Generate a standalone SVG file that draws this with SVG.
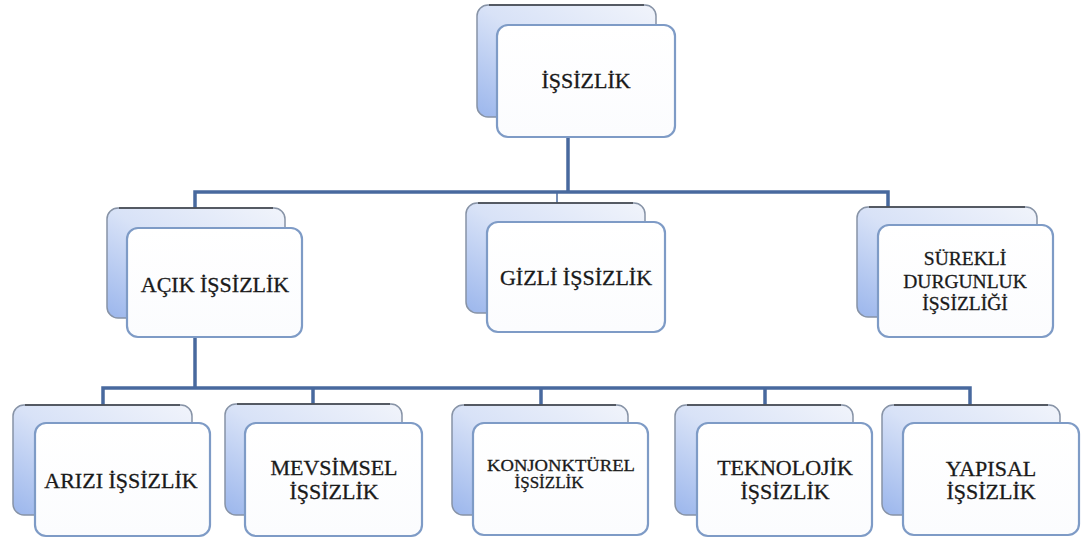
<svg xmlns="http://www.w3.org/2000/svg" width="1082" height="541" viewBox="0 0 1082 541">
  <defs>
    <linearGradient id="backFill" x1="1" y1="0" x2="0" y2="1">
      <stop offset="0" stop-color="#f1f4fb"/>
      <stop offset="0.5" stop-color="#d8e2f7"/>
      <stop offset="1" stop-color="#9bb6ec"/>
    </linearGradient>
    <linearGradient id="frontFill" x1="0" y1="0" x2="0" y2="1">
      <stop offset="0" stop-color="#ffffff"/>
      <stop offset="1" stop-color="#fbfcfe"/>
    </linearGradient>
  </defs>
  <style>
    .back { fill: url(#backFill); stroke: #8793a6; stroke-width: 1.5; }
    .backTop { fill: none; stroke: #3b3f46; stroke-width: 1.5; }
    .front { fill: url(#frontFill); stroke: #7e9bc6; stroke-width: 2.2; }
    .lbl { font-family: "Liberation Serif", "Times New Roman", serif; font-size: 22px; fill: #1a1a1a; stroke: #1a1a1a; stroke-width: 0.3; text-anchor: middle; }
    .mid { font-size: 19.5px; }
    .small { font-size: 17px; }
    .conn { fill: none; stroke: #48699e; stroke-width: 3.5; stroke-linejoin: miter; }
    .thin { fill: none; stroke: #48699e; stroke-width: 1.5; }
  </style>

  <rect width="1082" height="541" fill="#ffffff"/>

  <!-- connectors -->
  <g id="connectors">
    <path class="conn" d="M568 137 V192"/>
    <path class="conn" d="M195 208 V192 H888 V207"/>
    <path class="thin" d="M557 192 V203"/>
    <path class="conn" d="M195 338 V388"/>
    <path class="conn" d="M103 405 V388 H970 V405"/>
    <path class="conn" d="M313 388 V404"/>
    <path class="conn" d="M541 388 V405"/>
    <path class="conn" d="M765 388 V405"/>
  </g>

  <!-- top level -->
  <g id="issizlik">
    <rect class="back" x="477" y="5" width="179" height="112" rx="11"/>
    <path class="backTop" d="M489 5 H644"/>
    <rect class="front" x="497" y="25" width="178" height="112" rx="11"/>
    <text class="lbl" x="586" y="88">İŞSİZLİK</text>
  </g>

  <!-- second level -->
  <g id="acik-issizlik">
    <rect class="back" x="107" y="208" width="178" height="110" rx="11"/>
    <path class="backTop" d="M119 208 H273"/>
    <rect class="front" x="127" y="228" width="175" height="109" rx="11"/>
    <text class="lbl" x="215" y="292">AÇIK İŞSİZLİK</text>
  </g>

  <g id="gizli-issizlik">
    <rect class="back" x="466" y="203" width="179" height="110" rx="11"/>
    <path class="backTop" d="M478 203 H633"/>
    <rect class="front" x="487" y="222" width="178" height="110" rx="11"/>
    <text class="lbl" x="576" y="285">GİZLİ İŞSİZLİK</text>
  </g>

  <g id="surekli-durgunluk">
    <rect class="back" x="857" y="207" width="180" height="110" rx="11"/>
    <path class="backTop" d="M869 207 H1025"/>
    <rect class="front" x="878" y="225" width="175" height="112" rx="11"/>
    <text class="lbl mid" x="965" y="265">SÜREKLİ</text>
    <text class="lbl mid" x="965" y="287.5">DURGUNLUK</text>
    <text class="lbl mid" x="965" y="310">İŞSİZLİĞİ</text>
  </g>

  <!-- third level -->
  <g id="arizi-issizlik">
    <rect class="back" x="13" y="405" width="179" height="110" rx="11"/>
    <path class="backTop" d="M25 405 H180"/>
    <rect class="front" x="35" y="423" width="175" height="113" rx="11"/>
    <text class="lbl" x="121" y="488">ARIZI İŞSİZLİK</text>
  </g>

  <g id="mevsimsel-issizlik">
    <rect class="back" x="225" y="404" width="177" height="111" rx="11"/>
    <path class="backTop" d="M237 404 H390"/>
    <rect class="front" x="245" y="423" width="177" height="113" rx="11"/>
    <text class="lbl" x="334" y="475">MEVSİMSEL</text>
    <text class="lbl" x="334" y="499">İŞSİZLİK</text>
  </g>

  <g id="konjonkturel-issizlik">
    <rect class="back" x="452" y="405" width="176" height="110" rx="11"/>
    <path class="backTop" d="M464 405 H616"/>
    <rect class="front" x="473" y="423" width="175" height="112" rx="11"/>
    <text class="lbl small" x="561" y="471" textLength="148" lengthAdjust="spacingAndGlyphs">KONJONKTÜREL</text>
    <text class="lbl small" x="549" y="488">İŞSİZLİK</text>
  </g>

  <g id="teknolojik-issizlik">
    <rect class="back" x="675" y="405" width="178" height="110" rx="11"/>
    <path class="backTop" d="M687 405 H841"/>
    <rect class="front" x="697" y="423" width="175" height="113" rx="11"/>
    <text class="lbl" x="785" y="475">TEKNOLOJİK</text>
    <text class="lbl" x="785" y="499">İŞSİZLİK</text>
  </g>

  <g id="yapisal-issizlik">
    <rect class="back" x="882" y="405" width="178" height="110" rx="11"/>
    <path class="backTop" d="M894 405 H1048"/>
    <rect class="front" x="903" y="423" width="176" height="112" rx="11"/>
    <text class="lbl" x="991" y="476">YAPISAL</text>
    <text class="lbl" x="991" y="499">İŞSİZLİK</text>
  </g>
</svg>
